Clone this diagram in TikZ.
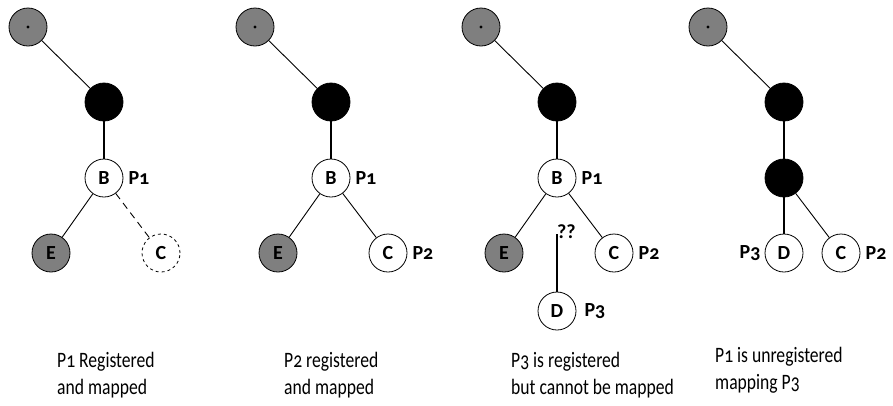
\documentclass[tikz,border=0pt]{standalone}
\usepackage{fontspec}
\setmainfont{Carlito}[Numbers=OldStyle]
\newfontfamily\notefont{Carlito}[Numbers=OldStyle,FakeStretch=0.8]
\usetikzlibrary{positioning}
\definecolor{Mid}{HTML}{7F7F7F}
\colorlet{rootfill}{Mid}
\colorlet{leaffill}{Mid}

\begin{document}
\begin{tikzpicture}[x=1pt,y=-1pt,
 node distance=5pt,
 dot/.style={circle,draw,line width=0.8pt,minimum size=38pt,inner sep=0pt,
   font=\fontsize{20}{22}\selectfont\bfseries},
 rootdot/.style={dot,fill=rootfill},
 hub/.style={dot,fill=black},
 free/.style={dot,fill=white},
 shade/.style={dot,fill=leaffill},
 gone/.style={dot,dashed},
 lab/.style={inner sep=0pt,font=\fontsize{20}{22}\selectfont\bfseries},
 link/.style={line width=0.9pt},
 trunk/.style={line width=1.8pt},
 note/.style={inner sep=0pt,align=left,anchor=north west,
   font=\notefont\fontsize{22}{27}\selectfont}]
 \useasboundingbox (0,0) rectangle (893,405);
 % panel 1
 \node[rootdot] (g1) at (28,27) {};
 \node[hub] (h1) at (104,102) {};
 \node[free] (b1) at (104,178) {B};
 \node[shade] (e1) at (51,253) {E};
 \node[gone] (c1) at (161,253) {C};
 \node[lab,right=of b1] {P1};
 \draw[link] (g1) -- (h1); \draw[trunk] (h1) -- (b1);
 \draw[link] (b1) -- (e1); \draw[link,dash pattern=on 7pt off 5pt] (b1) -- (c1);
 \node[note] at (57,352) {P1 Registered\\and mapped};
 % panel 2
 \node[rootdot] (g2) at (255,27) {};
 \node[hub] (h2) at (331,102) {};
 \node[free] (b2) at (331,178) {B};
 \node[shade] (e2) at (278,253) {E};
 \node[free] (c2) at (388,253) {C};
 \node[lab,right=of b2] {P1};
 \node[lab,right=of c2] {P2};
 \draw[link] (g2) -- (h2); \draw[trunk] (h2) -- (b2);
 \draw[link] (b2) -- (e2); \draw[link] (b2) -- (c2);
 \node[note] at (284,352) {P2 registered\\and mapped};
 % panel 3
 \node[rootdot] (g3) at (481,27) {};
 \node[hub] (h3) at (557,102) {};
 \node[free] (b3) at (557,178) {B};
 \node[shade] (e3) at (504,253) {E};
 \node[free] (c3) at (614,253) {C};
 \node[free] (d3) at (557,311) {D};
 \node[lab,right=of b3] {P1};
 \node[lab,right=of c3] {P2};
 \node[lab,right=8pt of d3] {P3};
 \coordinate (q3) at (557,234);
 \node[lab,anchor=south west] (qq) at (557,239) {??};
 \draw[link] (g3) -- (h3); \draw[trunk] (h3) -- (b3);
 \draw[link] (b3) -- (e3); \draw[link] (b3) -- (c3);
 \draw[trunk] (q3) -- (d3);
 \node[note] at (511,352) {P3 is registered\\but cannot be mapped};
 % panel 4
 \node[rootdot] (g4) at (708,27) {};
 \node[hub] (h4) at (784,102) {};
 \node[hub] (k4) at (784,178) {};
 \node[free] (d4) at (784,253) {D};
 \node[free] (c4) at (841,253) {C};
 \node[lab,left=4pt of d4] {P3};
 \node[lab,right=of c4] {P2};
 \draw[link] (g4) -- (h4); \draw[trunk] (h4) -- (k4);
 \draw[trunk] (k4) -- (d4); \draw[link] (k4) -- (c4);
 \node[note] at (715,347) {P1 is unregistered\\mapping P3};
 % centre marks of the root nodes
 \foreach \g in {g1,g2,g3,g4} \fill (\g.center) circle (1.6pt);
\end{tikzpicture}
\end{document}
